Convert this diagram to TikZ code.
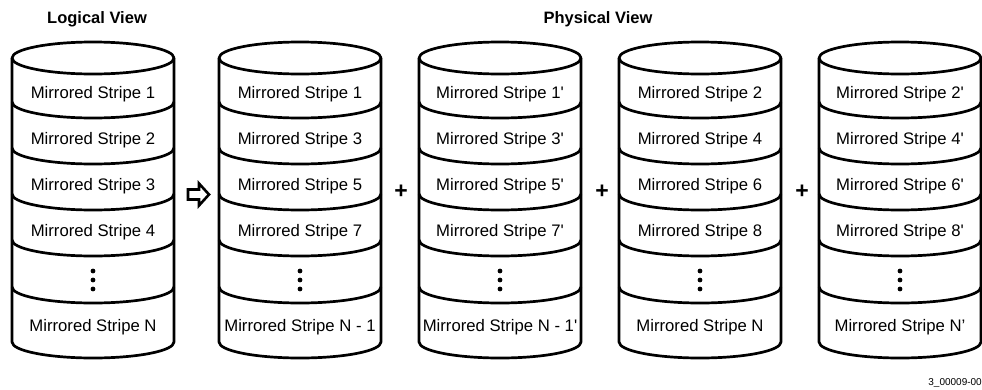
\documentclass[tikz,border=0pt]{standalone}
\usepackage{fontspec}
\setmainfont{Liberation Sans}
\tikzset{
  cyl/.style={line width=2.7pt, line join=round},
  lbl/.style={font=\fontsize{16.7}{19}\selectfont, inner sep=0pt},
  ttl/.style={font=\bfseries\fontsize{16.5}{19}\selectfont, inner sep=0pt},
  plussign/.style={font=\bfseries\fontsize{23}{25}\selectfont, inner sep=0pt},
  dot/.style={circle, fill=black, inner sep=0pt, minimum size=4.8pt},
  blockarrow/.style={line width=2.6pt, line join=miter},
}
% #1 name, #2 left x, #3..#8 labels
\newcommand{\mycyl}[8]{%
  \pgfmathsetmacro{\cl}{#2}%
  \pgfmathsetmacro{\cr}{#2+162}%
  \pgfmathsetmacro{\cc}{#2+81}%
  \draw[cyl] (\cc,58) ellipse [x radius=81, y radius=16];
  \draw[cyl] (\cl,58) -- (\cl,342) arc[start angle=180, end angle=360, x radius=81, y radius=-16] -- (\cr,58);
  \foreach \yy in {102,148,194,240,287}{
    \draw[cyl] (\cl,\yy) arc[start angle=180, end angle=360, x radius=81, y radius=-16];
  }
  \node[lbl] (#1-1) at (\cc,94) {#3};
  \node[lbl] (#1-2) at (\cc,140) {#4};
  \node[lbl] (#1-3) at (\cc,186) {#5};
  \node[lbl] (#1-4) at (\cc,232) {#6};
  \node[dot] (#1-d1) at (\cc,271) {};
  \node[dot] (#1-d2) at (\cc,280) {};
  \node[dot] (#1-d3) at (\cc,289) {};
  \node[lbl] (#1-n) at (\cc,327) {#8};
}
\begin{document}
\begin{tikzpicture}[x=1pt, y=-1pt]
\useasboundingbox (0,0) rectangle (982,389);
\node[ttl, anchor=base] (logical) at (97,23) {Logical View};
\node[ttl, anchor=base] (physical) at (598,23) {Physical View};
\mycyl{c1}{12}{Mirrored Stripe 1}{Mirrored Stripe 2}{Mirrored Stripe 3}{Mirrored Stripe 4}{}{Mirrored Stripe N}
\mycyl{c2}{219}{Mirrored Stripe 1}{Mirrored Stripe 3}{Mirrored Stripe 5}{Mirrored Stripe 7}{}{Mirrored Stripe N - 1}
\mycyl{c3}{419}{Mirrored Stripe 1\textquotesingle}{Mirrored Stripe 3\textquotesingle}{Mirrored Stripe 5\textquotesingle}{Mirrored Stripe 7\textquotesingle}{}{Mirrored Stripe N - 1\textquotesingle}
\mycyl{c4}{619}{Mirrored Stripe 2}{Mirrored Stripe 4}{Mirrored Stripe 6}{Mirrored Stripe 8}{}{Mirrored Stripe N}
\mycyl{c5}{819}{Mirrored Stripe 2\textquotesingle}{Mirrored Stripe 4\textquotesingle}{Mirrored Stripe 6\textquotesingle}{Mirrored Stripe 8\textquotesingle}{}{Mirrored Stripe N’}
% block arrow
\draw[blockarrow] (188,189.5) -- (199,189.5) -- (199,183.5) -- (209,194.5) -- (199,205.5) -- (199,199.5) -- (188,199.5) -- cycle;
\node[plussign] (p1) at (401,192) {+};
\node[plussign] (p2) at (602,192) {+};
\node[plussign] (p3) at (802,192) {+};
\node[font=\fontsize{10}{11}\selectfont, inner sep=0pt, anchor=east] (code) at (982,383) {3\_00009-00};
\end{tikzpicture}
\end{document}
